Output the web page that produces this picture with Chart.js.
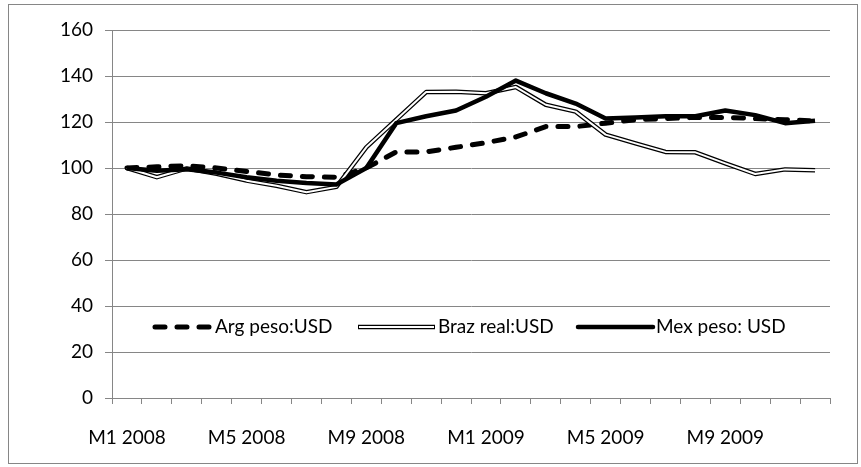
<!DOCTYPE html>
<html>
<head>
<meta charset="utf-8">
<script src="https://cdn.jsdelivr.net/npm/chart.js@4.4.0/dist/chart.umd.min.js"></script>
<style>
  html, body { margin: 0; padding: 0; background: #fff; }
  #wrap { width: 861px; height: 467px; position: relative; }
</style>
</head>
<body>
<div id="wrap"><canvas id="myChart"></canvas></div>
<script>
// データ
const months = [
  'M1 2008', 'M2 2008', 'M3 2008', 'M4 2008', 'M5 2008', 'M6 2008',
  'M7 2008', 'M8 2008', 'M9 2008', 'M10 2008', 'M11 2008', 'M12 2008',
  'M1 2009', 'M2 2009', 'M3 2009', 'M4 2009', 'M5 2009', 'M6 2009',
  'M7 2009', 'M8 2009', 'M9 2009', 'M10 2009', 'M11 2009', 'M12 2009'
];
const argPeso = [100, 100.5, 101, 100, 98.5, 97, 96.2, 96, 100, 107, 107, 109,
                 111, 113.5, 118, 118, 119.5, 121, 121.5, 122, 122, 121.5, 121, 120.5];
const brazReal = [100, 96, 99.8, 97.5, 94.5, 92.3, 89.5, 91.8, 109, 121, 133, 133.2,
                  132.5, 135.2, 127.5, 124.5, 114.5, 110.7, 107, 106.8, 102, 97.4, 99.4, 99];
const mexPeso = [100, 98.8, 99.5, 98, 96, 94.5, 93.5, 92.8, 100, 119.5, 122.5, 125,
                 131, 138, 132.5, 128, 121.5, 122, 122.5, 122.5, 125, 123, 119.5, 120.5];
const yTicks = { min: 0, max: 160, step: 20 };
const seriesNames = ['Arg peso:USD', 'Braz real:USD', 'Mex peso: USD'];

const FONT = { family: 'Lato', size: 19 };
const GREY = '#868686';

// 外枠
const framePlugin = {
  id: 'frame',
  beforeDraw(chart) {
    const c = chart.ctx;
    c.save();
    c.strokeStyle = GREY;
    c.lineWidth = 1;
    c.strokeRect(8.5, 4.5, chart.width - 12, chart.height - 8);
    c.restore();
  }
};

// 凡例（グラフ内に描く）
const legendPlugin = {
  id: 'insideLegend',
  afterDatasetsDraw(chart) {
    const c = chart.ctx;
    const area = chart.chartArea;
    const y = area.bottom - 71;
    const starts = [40, 246, 466];
    const lens = [60, 77, 75];
    c.save();
    starts.forEach(function(s, i) {
      const x0 = area.left + s;
      const x1 = x0 + lens[i];
      c.lineCap = 'round';
      if (i === 0) {
        c.setLineDash([10, 12]);
        c.lineWidth = 5;
        c.strokeStyle = '#000';
        c.beginPath(); c.moveTo(x0 + 3, y); c.lineTo(x1, y); c.stroke();
      } else if (i === 1) {
        c.setLineDash([]);
        c.lineCap = 'butt';
        c.lineWidth = 4.5; c.strokeStyle = '#000';
        c.beginPath(); c.moveTo(x0, y); c.lineTo(x1, y); c.stroke();
        c.lineWidth = 2; c.strokeStyle = '#fff';
        c.beginPath(); c.moveTo(x0 + 1, y); c.lineTo(x1 - 1, y); c.stroke();
      } else {
        c.setLineDash([]);
        c.lineWidth = 4.5; c.strokeStyle = '#000';
        c.beginPath(); c.moveTo(x0, y); c.lineTo(x1, y); c.stroke();
      }
      c.setLineDash([]);
      c.fillStyle = '#000';
      c.font = FONT.size + 'px ' + FONT.family;
      c.textBaseline = 'middle';
      c.textAlign = 'left';
      c.fillText(seriesNames[i], x1 + 3, y);
    });
    c.restore();
  }
};

const ctx = document.getElementById('myChart');
const chart = new Chart(ctx, {
  type: 'line',
  data: {
    labels: months,
    datasets: [
      {
        label: seriesNames[0],
        data: argPeso,
        borderColor: '#000',
        borderWidth: 5,
        borderDash: [10, 12],
        borderCapStyle: 'round',
        borderJoinStyle: 'round',
        pointRadius: 0,
        order: 4
      },
      {
        label: seriesNames[1],
        data: brazReal,
        borderColor: '#000',
        borderWidth: 4.5,
        borderJoinStyle: 'round',
        pointRadius: 0,
        order: 3
      },
      {
        label: seriesNames[1] + ' inner',
        data: brazReal,
        borderColor: '#fff',
        borderWidth: 2,
        borderJoinStyle: 'round',
        pointRadius: 0,
        order: 2
      },
      {
        label: seriesNames[2],
        data: mexPeso,
        borderColor: '#000',
        borderWidth: 4.5,
        borderJoinStyle: 'round',
        pointRadius: 0,
        order: 1
      }
    ]
  },
  options: {
    responsive: true,
    maintainAspectRatio: false,
    animation: false,
    layout: { padding: { top: 30, right: 31, bottom: 0, left: 0 } },
    plugins: {
      legend: { display: false },
      tooltip: { enabled: false }
    },
    scales: {
      x: {
        offset: true,
        grid: { offset: true, drawOnChartArea: false, drawTicks: true, tickLength: 6, color: GREY },
        border: { color: GREY },
        ticks: {
          autoSkip: false,
          maxRotation: 0,
          padding: 22,
          color: '#000',
          font: FONT,
          callback: function(v, i) { return i % 4 === 0 ? months[i] : ''; }
        },
        afterFit: function(s) { s.height = 69; }
      },
      y: {
        min: yTicks.min,
        max: yTicks.max,
        grid: { color: GREY, tickLength: 7 },
        border: { color: GREY },
        ticks: { stepSize: yTicks.step, padding: 12, color: '#000', font: FONT },
        afterFit: function(s) { s.width = 112; }
      }
    }
  },
  plugins: [framePlugin, legendPlugin]
});
</script>
</body>
</html>
